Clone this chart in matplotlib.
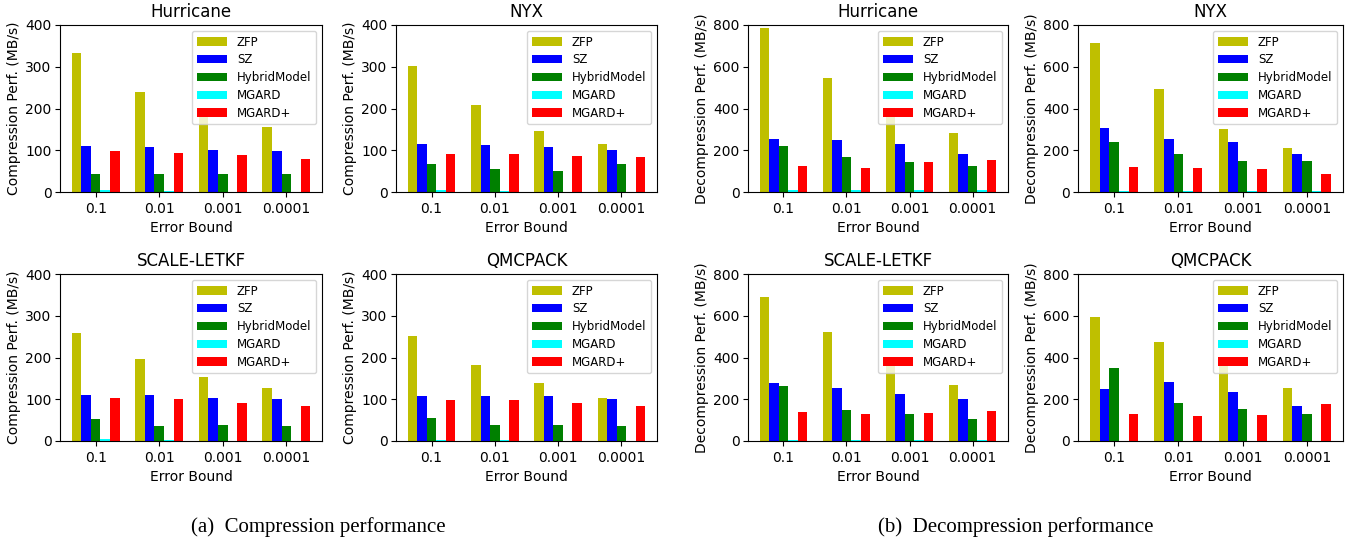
import numpy as np
import matplotlib.pyplot as plt

compressors = ['ZFP', 'SZ', 'HybridModel', 'MGARD', 'MGARD+']
error_bounds = ['0.1', '0.01', '0.001', '0.0001']
colors = ['y', 'b', 'g', 'cyan', 'r']

# rows follow compressors, columns follow error_bounds (MB/s)
comp_hurricane = [[334, 240, 185, 155], [109, 107, 101, 99], [43, 43, 43, 43], [5, 3, 1, 1], [99, 94, 88, 80]]
comp_nyx = [[302, 209, 147, 116], [116, 113, 108, 101], [68, 56, 51, 68], [5, 2, 1, 1], [92, 92, 87, 84]]
comp_scale = [[259, 197, 154, 127], [110, 110, 103, 101], [53, 36, 38, 36], [5, 2, 1, 1], [103, 101, 91, 84]]
comp_qmcpack = [[252, 182, 139, 103], [108, 108, 108, 101], [55, 38, 38, 36], [2, 2, 0.5, 0.5], [98, 98, 91, 84]]

decomp_hurricane = [[787, 547, 378, 283], [254, 250, 230, 182], [221, 168, 144, 125], [10, 10, 10, 10], [125, 115, 144, 154]]
decomp_nyx = [[714, 494, 303, 212], [308, 255, 241, 183], [241, 183, 150, 150], [5, 5, 5, 5], [121, 116, 112, 88]]
decomp_scale = [[691, 522, 363, 267], [277, 253, 224, 200], [262, 147, 128, 104], [5, 5, 5, 5], [138, 128, 133, 142]]
decomp_qmcpack = [[594, 474, 366, 253], [248, 282, 234, 166], [349, 181, 152, 128], [0.5, 0.5, 0.5, 0.5], [128, 118, 123, 176]]

W, H = 1349, 542
fig = plt.figure(figsize=(W / 100, H / 100), dpi=100)

# axes boxes in pixels (left, right) per column, (top, bottom) per row
cols = [(60, 322), (396, 657), (748, 1008), (1078, 1343)]
rows = [(25, 192), (274, 441)]


def draw(col, row, data, title, ylabel, ymax):
    l, r = cols[col]
    t, b = rows[row]
    ax = fig.add_axes([l / W, 1 - b / H, (r - l) / W, (b - t) / H])
    x = np.arange(len(error_bounds))
    w = 0.15
    for i in range(len(compressors)):
        ax.bar(x + (i - 2) * w, data[i], w, color=colors[i], label=compressors[i])
    ax.set_xticks(x)
    ax.set_xticklabels(error_bounds)
    ax.set_ylim(0, ymax)
    ax.set_yticks(np.linspace(0, ymax, 5))
    ax.tick_params(axis='y', pad=2.5)
    ax.set_title(title, fontsize=12)
    ax.set_xlabel('Error Bound', fontsize=10)
    ax.set_ylabel(ylabel, fontsize=10, labelpad=3)
    ax.legend(loc='upper right', fontsize=8.5, handlelength=2.6, labelspacing=0.4)
    return ax


draw(0, 0, comp_hurricane, 'Hurricane', 'Compression Perf. (MB/s)', 400)
draw(1, 0, comp_nyx, 'NYX', 'Compression Perf. (MB/s)', 400)
draw(0, 1, comp_scale, 'SCALE-LETKF', 'Compression Perf. (MB/s)', 400)
draw(1, 1, comp_qmcpack, 'QMCPACK', 'Compression Perf. (MB/s)', 400)

draw(2, 0, decomp_hurricane, 'Hurricane', 'Decompression Perf. (MB/s)', 800)
draw(3, 0, decomp_nyx, 'NYX', 'Decompression Perf. (MB/s)', 800)
draw(2, 1, decomp_scale, 'SCALE-LETKF', 'Decompression Perf. (MB/s)', 800)
draw(3, 1, decomp_qmcpack, 'QMCPACK', 'Decompression Perf. (MB/s)', 800)

fig.text(318 / W, 1 - 527 / H, '(a)  Compression performance', ha='center', va='center',
         family='Liberation Serif', fontsize=15)
fig.text(1016 / W, 1 - 527 / H, '(b)  Decompression performance', ha='center', va='center',
         family='Liberation Serif', fontsize=15)

fig.savefig('out.png', dpi=100)
